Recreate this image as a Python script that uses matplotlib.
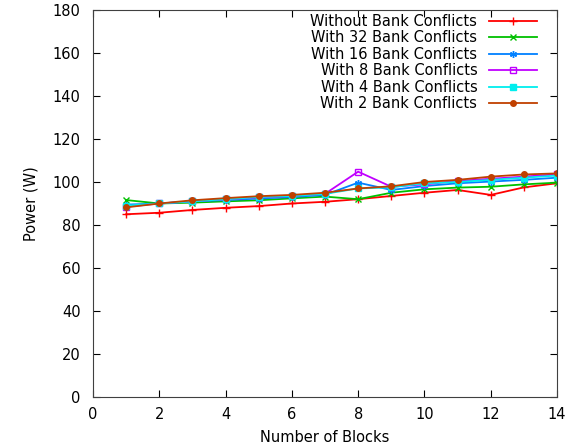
import matplotlib
matplotlib.use("Agg")
import matplotlib.pyplot as plt

blocks = list(range(1, 15))
without = [85.0, 85.7, 87.0, 88.0, 88.8, 90.0, 90.8, 92.0, 93.5, 95.0, 96.3, 94.0, 97.5, 99.4]
bc32 = [91.6, 90.0, 90.4, 91.0, 91.5, 92.4, 93.2, 92.0, 95.0, 96.6, 97.4, 97.8, 98.9, 99.7]
bc16 = [89.5, 90.0, 91.0, 91.6, 92.3, 93.0, 94.0, 99.7, 96.3, 98.1, 99.4, 100.2, 101.0, 102.0]
bc8 = [88.5, 90.0, 91.0, 92.0, 92.8, 93.5, 94.5, 104.8, 97.8, 98.9, 100.5, 101.5, 102.5, 103.6]
bc4 = [89.0, 90.0, 91.0, 92.0, 93.0, 93.5, 94.5, 97.0, 97.5, 99.4, 100.0, 101.0, 102.0, 103.0]
bc2 = [88.2, 90.0, 91.5, 92.5, 93.4, 94.0, 95.0, 97.0, 98.0, 100.0, 101.0, 102.5, 103.5, 104.0]

labels = ["Without Bank Conflicts", "With 32 Bank Conflicts", "With 16 Bank Conflicts",
          "With 8 Bank Conflicts", "With 4 Bank Conflicts", "With 2 Bank Conflicts"]
xticks = [0, 2, 4, 6, 8, 10, 12, 14]
yticks = [0, 20, 40, 60, 80, 100, 120, 140, 160, 180]

plt.rcParams['font.family'] = ['DejaVu Sans']
fig = plt.figure(figsize=(5.75, 4.48), dpi=100)
ax = fig.add_axes([93/575, 51/448, 464/575, 387/448])

styles = [
    dict(color='#ff0000', marker='+', ms=6, mfc='#ff0000'),
    dict(color='#00c000', marker='x', ms=4, mfc='#00c000'),
    dict(color='#0080ff', marker=(6, 2, 0), ms=5, mfc='#0080ff'),
    dict(color='#c000ff', marker='s', ms=4, mfc='none'),
    dict(color='#00eeee', marker='s', ms=4, mfc='#00eeee'),
    dict(color='#c04000', marker='o', ms=4, mfc='#c04000'),
]
series = [without, bc32, bc16, bc8, bc4, bc2]
for ys, lab, st in zip(series, labels, styles):
    ax.plot(blocks, ys, label=lab, lw=1.3, mew=1.0, **st)

ax.set_xlim(0, 14)
ax.set_ylim(0, 180)
ax.set_xticks(xticks)
ax.set_yticks(yticks)
ax.tick_params(direction='in', top=True, right=True, length=5, labelsize=10.5)
ax.tick_params(axis='x', pad=7)
ax.tick_params(axis='y', pad=9)
for s in ax.spines.values():
    s.set_color('#404040')
ax.set_xlabel("Number of Blocks", fontsize=10.5, labelpad=6)
ax.set_ylabel("Power (W)", fontsize=10.5, labelpad=10)

leg = ax.legend(loc='upper right', bbox_to_anchor=(0.957, 0.99), frameon=False,
                markerfirst=False, fontsize=10.5, handlelength=3.3, labelspacing=0.1,
                borderaxespad=0, borderpad=0, handletextpad=0.8)

fig.savefig("out.png", dpi=100)
